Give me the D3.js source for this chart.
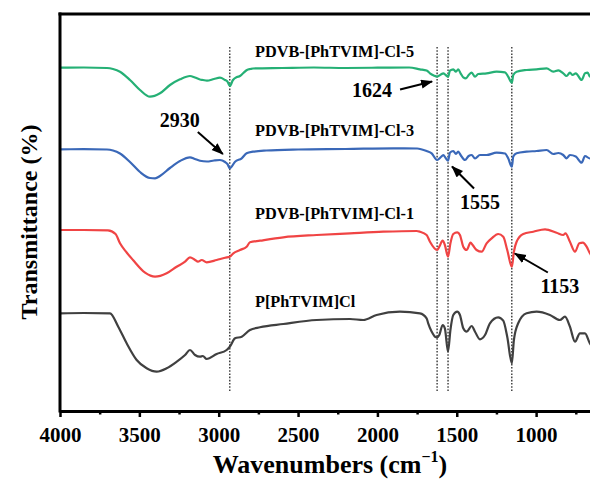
<!DOCTYPE html>
<html>
<head>
<meta charset="utf-8">
<script src="https://cdn.jsdelivr.net/npm/d3@7"></script>
<style>
	body { margin: 0; background: #fff; }
	text { font-family: 'Liberation Serif', 'Times New Roman', serif; font-weight: bold; }
</style>
</head>
<body>
<svg id="chart" width="590" height="482"></svg>
<script>
//FTIR spectra, [wavenumber, transmittance (offset, a.u.)]
var cl5 = [[4000, 343.3], [3850, 343.5], [3704, 343], [3666, 342], [3622, 339.3], [3559, 331], [3496, 321],
	[3433, 314.3], [3370, 317.7], [3307, 326], [3244, 331.7], [3181, 335], [3150, 333.5], [3118, 331.5],
	[3099, 331], [3074, 330.3], [3030, 332], [2992, 333.3], [2960, 331], [2945, 329.5], [2930, 325],
	[2910, 331], [2885, 334], [2866, 335], [2845, 338], [2822, 341], [2800, 342], [2784, 342.5],
	[2600, 343], [2400, 343.5], [2200, 343], [2000, 343.3], [1800, 343.5], [1732, 341.7], [1690, 340.5],
	[1669, 337.7], [1645, 335.5], [1624, 334.3], [1600, 336.5], [1585, 337.7], [1570, 336], [1555, 334.3],
	[1543, 340.3], [1522, 341.7], [1505, 339.3], [1491, 341.7], [1476, 337.7], [1459, 333.7],
	[1442, 332.7], [1425, 336], [1406, 338.3], [1385, 334.3], [1365, 337], [1312, 337.7], [1249, 339.3],
	[1196, 338.7], [1176, 334.3], [1153, 328.3], [1144, 336], [1123, 339.3], [1060, 341], [997, 341.7],
	[934, 342.7], [892, 339.3], [860, 340.7], [829, 337.7], [808, 335], [787, 338.3], [770, 336],
	[750, 337.7], [713, 331], [692, 337.7], [675, 338.3], [661, 334.3], [630, 337], [600, 336]];

var cl3 = [[4000, 261.7], [3850, 261.8], [3704, 261.5], [3666, 260.5], [3622, 257.5], [3559, 249], [3496, 239],
	[3433, 233], [3401, 232.7], [3370, 235], [3307, 243], [3244, 250], [3181, 253.7], [3150, 252],
	[3118, 250.3], [3074, 249.5], [3030, 250.5], [2992, 251], [2960, 249], [2945, 247], [2930, 242.7],
	[2897, 249.3], [2855, 252.7], [2824, 257.7], [2784, 259.3], [2700, 260.5], [2500, 261.5], [2200, 262],
	[1900, 262.7], [1750, 262.5], [1690, 260], [1658, 257.7], [1624, 251], [1600, 254], [1585, 256],
	[1570, 253], [1555, 250.3], [1543, 258.3], [1522, 260], [1505, 257], [1491, 259.5], [1476, 256],
	[1448, 251], [1425, 255], [1406, 256], [1385, 252.5], [1354, 256], [1312, 256], [1249, 258.3],
	[1196, 257.5], [1176, 252.7], [1153, 244.3], [1144, 254.5], [1123, 257.7], [1060, 259.3], [997, 260],
	[934, 261], [892, 257], [860, 258], [829, 256], [808, 252.7], [787, 256], [750, 254.5], [713, 248.3],
	[692, 255], [661, 252.5], [630, 255], [600, 254]];

var cl1 = [[4000, 181], [3850, 181], [3698, 180.7], [3650, 177], [3622, 167.7], [3580, 158.5], [3540, 151],
	[3464, 138.3], [3401, 134.3], [3328, 137.7], [3265, 144.3], [3212, 149.3], [3181, 153.7], [3149, 151],
	[3131, 149.3], [3107, 151], [3076, 148.7], [3013, 151], [2960, 153.3], [2930, 154.3], [2908, 157.7],
	[2866, 161], [2824, 164.3], [2803, 168.7], [2740, 170.3], [2593, 173.7], [2383, 176], [2173, 177.7],
	[1963, 179.3], [1753, 180], [1732, 179.3], [1690, 176], [1669, 169.3], [1624, 161], [1610, 164.3],
	[1589, 170.3], [1575, 166], [1555, 154.3], [1540, 167.7], [1522, 177], [1497, 178.7], [1480, 176],
	[1459, 164.3], [1438, 161], [1413, 168.3], [1400, 166], [1375, 161], [1343, 159.3], [1312, 167.7],
	[1280, 172.7], [1239, 177], [1207, 174.3], [1182, 161], [1153, 144.3], [1140, 159.3], [1123, 169.3],
	[1081, 177], [1018, 179.3], [944, 181.7], [871, 178.3], [829, 176], [815, 177.7], [787, 169.3],
	[755, 159.3], [728, 167.7], [705, 168.3], [682, 164.3], [661, 157.7], [630, 152], [600, 150]];

var pm = [[4000, 97.7], [3850, 98], [3685, 97.7], [3633, 84.3], [3580, 67.7], [3517, 51], [3454, 42.7],
	[3391, 39.3], [3328, 42.7], [3265, 49.3], [3212, 56], [3181, 61], [3149, 56], [3118, 54.3], [3100, 55],
	[3076, 52], [3013, 57], [2950, 61], [2930, 64.3], [2897, 72.7], [2855, 74.3], [2803, 81], [2740, 83.7],
	[2593, 87], [2383, 91], [2173, 92], [2089, 91], [2005, 96], [1858, 99.3], [1732, 97.7], [1690, 92.7],
	[1680, 87.7], [1658, 79.3], [1637, 74.3], [1624, 73.7], [1610, 76], [1589, 86], [1575, 82.7],
	[1555, 59.3], [1540, 81], [1522, 96], [1497, 99.3], [1480, 96], [1459, 82.7], [1438, 79.3], [1406, 85],
	[1385, 79.3], [1354, 71.7], [1322, 76], [1291, 87.7], [1239, 93.7], [1207, 90.3], [1182, 74.3],
	[1153, 47.7], [1140, 71], [1113, 87.7], [1060, 97.7], [997, 99.3], [913, 96], [850, 91], [818, 94.3],
	[787, 84.3], [755, 69.3], [724, 77.7], [692, 77.7], [661, 67.7], [630, 62], [600, 60]];

var seriesNames = ['PDVB-[PhTVIM]-Cl-5', 'PDVB-[PhTVIM]-Cl-3', 'PDVB-[PhTVIM]-Cl-1', 'P[PhTVIM]Cl'];
var seriesColors = ['#25b075', '#3a68b8', '#f04444', '#404040'];
var seriesLabelY = [354, 275, 192, 104];
var peaks = [2930, 1624, 1555, 1153];
var majorTicks = [4000, 3500, 3000, 2500, 2000, 1500, 1000];
var minorTicks = [3750, 3250, 2750, 2250, 1750, 1250, 750];

//annotation layout: tip offset from peak line, tail and text offsets
var notes = [
	{ wn: 2930, y: 257, dx: -7, tail: [-25, -22], text: [-43, -27] },
	{ wn: 1624, y: 329.5, dx: -5, tail: [-32, 8], text: [-60, 15] },
	{ wn: 1555, y: 244.5, dx: 4, tail: [22, 22], text: [28, 42] },
	{ wn: 1153, y: 157.5, dx: 3, tail: [33, 19], text: [45, 39] }
];

var svg = d3.select('#chart');
var x = d3.scaleLinear().domain([4000, 600]).range([60, 599.6]);
var y = d3.scaleLinear().domain([0, 400]).range([411, 11]);

var defs = svg.append('defs');
defs.append('clipPath').attr('id', 'plot-clip')
	.append('rect').attr('x', 60).attr('y', 14).attr('width', 540).attr('height', 397);

defs.append('marker')
	.attr('id', 'arrow')
	.attr('markerUnits', 'userSpaceOnUse')
	.attr('markerWidth', 12).attr('markerHeight', 10)
	.attr('refX', 11).attr('refY', 4.5)
	.attr('orient', 'auto')
	.append('path').attr('d', 'M0,0 L12,4.5 L0,9 Z').attr('fill', '#000');

//peak guide lines
svg.append('g').selectAll('line').data(peaks).enter().append('line')
	.attr('x1', function (d) { return x(d); })
	.attr('x2', function (d) { return x(d); })
	.attr('y1', y(364)).attr('y2', y(19))
	.attr('stroke', '#000').attr('stroke-width', 1.1)
	.attr('stroke-dasharray', '1.6,1.6');

//spectra
var line = d3.line()
	.x(function (d) { return x(d[0]); })
	.y(function (d) { return y(d[1]); })
	.curve(d3.curveMonotoneX);

svg.append('g').attr('clip-path', 'url(#plot-clip)')
	.selectAll('path').data([cl5, cl3, cl1, pm]).enter().append('path')
	.attr('d', line)
	.attr('fill', 'none')
	.attr('stroke', function (d, i) { return seriesColors[i]; })
	.attr('stroke-width', 2.2)
	.attr('stroke-linejoin', 'round');

//series labels
svg.append('g').selectAll('text').data(seriesNames).enter().append('text')
	.attr('x', 255)
	.attr('y', function (d, i) { return y(seriesLabelY[i]); })
	.attr('font-size', 16.3)
	.text(function (d) { return d; });

//annotations
var ann = svg.append('g');
notes.forEach(function (n) {
	var tx = x(n.wn) + n.dx;
	var ty = y(n.y);
	ann.append('line')
		.attr('x1', tx + n.tail[0]).attr('y1', ty + n.tail[1])
		.attr('x2', tx).attr('y2', ty)
		.attr('stroke', '#000').attr('stroke-width', 2)
		.attr('marker-end', 'url(#arrow)');
	ann.append('text')
		.attr('x', tx + n.text[0]).attr('y', ty + n.text[1])
		.attr('text-anchor', 'middle')
		.attr('font-size', 20)
		.text(n.wn);
});

//axes
var xAxis = svg.append('g').attr('transform', 'translate(0,' + y(0) + ')')
	.call(d3.axisBottom(x).tickValues(majorTicks).tickSize(6).tickSizeOuter(0)
		.tickPadding(10).tickFormat(d3.format('d')));
xAxis.select('.domain').attr('stroke-width', 3);
xAxis.selectAll('.tick line').attr('stroke-width', 2.5);
xAxis.selectAll('.tick text')
	.attr('font-family', 'Liberation Serif')
	.attr('font-weight', 'bold')
	.attr('font-size', 21)
	.attr('fill', '#000');

var xMinor = svg.append('g').attr('transform', 'translate(0,' + y(0) + ')')
	.call(d3.axisBottom(x).tickValues(minorTicks).tickSize(3.5).tickFormat(''));
xMinor.select('.domain').remove();
xMinor.selectAll('.tick line').attr('stroke-width', 2.5);

svg.append('line').attr('x1', 60).attr('x2', 60).attr('y1', 12.5).attr('y2', y(0) + 1.5)
	.attr('stroke', '#000').attr('stroke-width', 3);
svg.append('line').attr('x1', 58.5).attr('x2', 590).attr('y1', 14).attr('y2', 14)
	.attr('stroke', '#000').attr('stroke-width', 3);

//titles
var xt = svg.append('text').attr('x', 330).attr('y', 473)
	.attr('text-anchor', 'middle').attr('font-size', 26);
xt.append('tspan').text('Wavenumbers (cm');
xt.append('tspan').attr('font-size', 16).attr('dy', -11).text('\u22121');
xt.append('tspan').attr('dy', 11).text(')');

svg.append('text')
	.attr('transform', 'translate(37,222) rotate(-90)')
	.attr('text-anchor', 'middle').attr('font-size', 24)
	.text('Transmittance (%)');
</script>
</body>
</html>
